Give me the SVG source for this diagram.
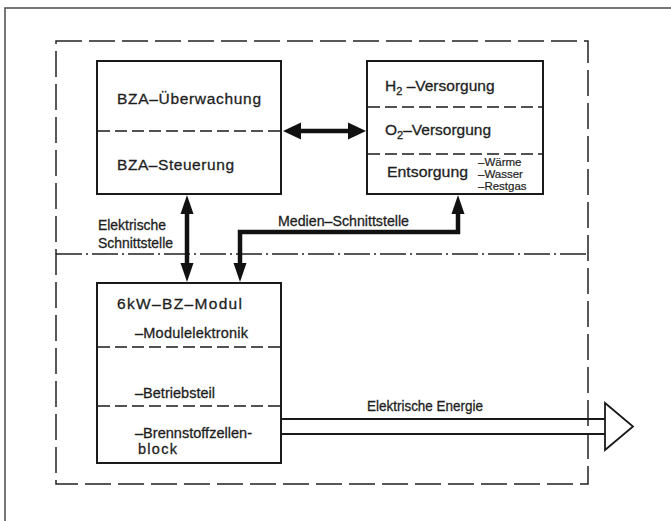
<svg xmlns="http://www.w3.org/2000/svg" width="671" height="521" viewBox="0 0 671 521">
<style>
text{font-family:"Liberation Sans",Arial,sans-serif;fill:#1e1e1e;stroke:#1e1e1e;stroke-width:0.3}
.t{font-size:15.5px}
.s{font-size:14.5px}
.xs{font-size:11.5px;stroke-width:0.2}
.box{fill:none;stroke:#1a1a1a;stroke-width:2}
.div{stroke:#1a1a1a;stroke-width:1.4;stroke-dasharray:12 5;fill:none}
.frame{fill:none;stroke:#222;stroke-width:1.5;stroke-dasharray:26 7}
.dd{fill:none;stroke:#222;stroke-width:1.4;stroke-dasharray:26 4 2 4}
.shaft{fill:none;stroke:#111;stroke-width:4.5}
.head{fill:#111}
.en{fill:none;stroke:#1a1a1a;stroke-width:1.8}
</style>
<rect x="5" y="8" width="700" height="530" fill="none" stroke="#555" stroke-width="1.6"/>
<rect class="frame" x="56" y="41" width="532" height="443"/>
<line class="dd" x1="56" y1="254" x2="588" y2="254"/>

<g id="bza">
<rect class="box" x="97" y="61" width="184" height="133"/>
<line class="div" x1="98" y1="131" x2="280" y2="131"/>
<text class="t" x="117" y="104" textLength="144" lengthAdjust="spacing">BZA–Überwachung</text>
<text class="t" x="117" y="170" textLength="117" lengthAdjust="spacing">BZA–Steuerung</text>
</g>

<g id="versorgung">
<rect class="box" x="367" y="61" width="176" height="133"/>
<line class="div" x1="368" y1="107" x2="542" y2="107"/>
<line class="div" x1="368" y1="154" x2="542" y2="154"/>
<text class="t" x="385" y="91">H<tspan font-size="11" dy="4">2</tspan><tspan dy="-4"> –Versorgung</tspan></text>
<text class="t" x="385" y="135">O<tspan font-size="11" dy="4">2</tspan><tspan dy="-4">–Versorgung</tspan></text>
<text class="t" x="387" y="177" textLength="81" lengthAdjust="spacingAndGlyphs">Entsorgung</text>
<text class="xs" x="478" y="166">–Wärme</text>
<text class="xs" x="478" y="178">–Wasser</text>
<text class="xs" x="478" y="190">–Restgas</text>
</g>

<g id="modul">
<rect class="box" x="97" y="283" width="184" height="180"/>
<line class="div" x1="98" y1="347" x2="280" y2="347"/>
<line class="div" x1="98" y1="406" x2="280" y2="406"/>
<text class="t" x="117" y="309" textLength="125" lengthAdjust="spacing">6kW–BZ–Modul</text>
<text class="s" x="135" y="338" textLength="113" lengthAdjust="spacing">–Modulelektronik</text>
<text class="s" x="135" y="398" textLength="80" lengthAdjust="spacing">–Betriebsteil</text>
<text class="s" x="135" y="438" textLength="117" lengthAdjust="spacingAndGlyphs">–Brennstoffzellen-</text>
<text class="s" x="138" y="454" textLength="39" lengthAdjust="spacing">block</text>
</g>

<g id="connectors">
<line class="shaft" x1="298" y1="131" x2="350" y2="131"/>
<polygon class="head" points="283,131 301,122.5 301,139.5"/>
<polygon class="head" points="366,131 348,122.5 348,139.5"/>

<line class="shaft" x1="187" y1="210" x2="187" y2="266"/>
<polygon class="head" points="187,195 180.5,214 193.5,214"/>
<polygon class="head" points="187,282 180.5,263 193.5,263"/>

<polyline class="shaft" points="458,210 458,232 240,232 240,266"/>
<polygon class="head" points="458,195 451.5,214 464.5,214"/>
<polygon class="head" points="240,282 233.5,263 246.5,263"/>

<line class="en" x1="281" y1="419" x2="605" y2="419"/>
<line class="en" x1="281" y1="434" x2="605" y2="434"/>
<polygon class="en" points="605,403 633,426.5 605,450"/>

<text class="s" x="98" y="230" textLength="68" lengthAdjust="spacingAndGlyphs">Elektrische</text>
<text class="s" x="98" y="248" textLength="75" lengthAdjust="spacingAndGlyphs">Schnittstelle</text>
<text class="s" x="278" y="226" textLength="131" lengthAdjust="spacingAndGlyphs">Medien–Schnittstelle</text>
<text class="s" x="367" y="411" textLength="116" lengthAdjust="spacingAndGlyphs">Elektrische Energie</text>
</g>
</svg>
